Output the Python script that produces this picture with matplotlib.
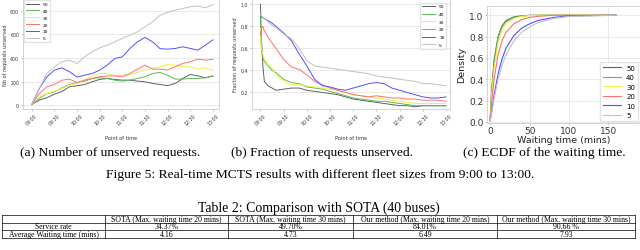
import matplotlib
matplotlib.use('Agg')
import matplotlib.pyplot as plt
from matplotlib.lines import Line2D

# ---- data ----
fleet_sizes = ['50', '40', '30', '20', '10', '5']
colors = ['#606060', '#5cb85c', '#f2f23a', '#ff7070', '#5050ff', '#c0c0c0']

time_labels = ['09:00', '09:30', '10:00', '10:30', '11:00',
               '11:30', '12:00', '12:30', '13:00']
time_ticks = [0, 30, 60, 90, 120, 150, 180, 210, 240]

# (a) number of unserved requests, every 10 minutes from 09:00
minutes_a = [0, 10, 20, 30, 40, 50, 60, 70, 80, 90, 100, 110, 120,
             130, 140, 150, 160, 170, 180, 190, 200, 210, 220, 230, 240]
unserved_50 = [8, 45, 65, 95, 118, 158, 166, 177, 200, 220, 228, 220, 214,
               214, 206, 200, 186, 177, 168, 186, 228, 262, 250, 234, 250]
unserved_40 = [8, 59, 101, 115, 149, 177, 194, 206, 228, 234, 228, 214, 206,
               214, 228, 242, 270, 279, 256, 223, 223, 228, 228, 234, 248]
unserved_30 = [8, 73, 101, 121, 144, 172, 186, 214, 250, 270, 270, 250, 256,
               262, 279, 299, 313, 327, 347, 341, 327, 327, 307, 318, 299]
unserved_20 = [8, 101, 158, 177, 214, 222, 194, 214, 228, 242, 250, 250, 242,
               270, 307, 341, 307, 307, 299, 327, 355, 369, 392, 383, 389]
unserved_10 = [8, 144, 242, 299, 318, 285, 240, 256, 270, 299, 341, 397, 411,
               482, 538, 575, 538, 480, 476, 482, 496, 482, 468, 510, 555]
unserved_5 = [8, 144, 270, 327, 369, 383, 355, 411, 454, 487, 510, 538, 566,
              594, 622, 665, 707, 763, 786, 806, 820, 834, 842, 825, 853]

# (b) fraction of requests unserved
minutes_b = [0, 1, 3, 5, 10, 15, 20, 30, 40, 50, 60, 70, 80, 90, 100, 110,
             120, 130, 140, 150, 160, 170, 180, 190, 200, 210, 220, 230, 240]
fraction_50 = [1.0, 0.72, 0.45, 0.30, 0.26, 0.24, 0.22, 0.23, 0.24, 0.24, 0.22,
               0.21, 0.20, 0.19, 0.18, 0.16, 0.14, 0.13, 0.12, 0.11, 0.10, 0.09,
               0.08, 0.08, 0.07, 0.08, 0.08, 0.08, 0.08]
fraction_40 = [0.90, 0.62, 0.52, 0.48, 0.44, 0.40, 0.38, 0.32, 0.29, 0.28, 0.25,
               0.24, 0.23, 0.21, 0.19, 0.17, 0.15, 0.14, 0.13, 0.12, 0.12, 0.11,
               0.10, 0.09, 0.08, 0.08, 0.08, 0.08, 0.08]
fraction_30 = [0.78, 0.60, 0.55, 0.50, 0.45, 0.42, 0.36, 0.30, 0.27, 0.27, 0.26,
               0.25, 0.24, 0.23, 0.22, 0.20, 0.18, 0.17, 0.16, 0.15, 0.14, 0.13,
               0.12, 0.11, 0.10, 0.10, 0.10, 0.10, 0.10]
fraction_20 = [0.72, 0.78, 0.80, 0.76, 0.70, 0.65, 0.60, 0.50, 0.43, 0.41, 0.36,
               0.30, 0.27, 0.24, 0.22, 0.20, 0.18, 0.17, 0.16, 0.17, 0.16, 0.15,
               0.15, 0.14, 0.14, 0.13, 0.13, 0.13, 0.12]
fraction_10 = [0.88, 0.89, 0.88, 0.87, 0.85, 0.83, 0.80, 0.74, 0.67, 0.55, 0.44,
               0.32, 0.26, 0.25, 0.23, 0.22, 0.24, 0.26, 0.28, 0.29, 0.28, 0.24,
               0.22, 0.20, 0.18, 0.16, 0.15, 0.15, 0.16]
fraction_5 = [0.91, 0.90, 0.88, 0.87, 0.84, 0.81, 0.79, 0.73, 0.69, 0.60, 0.49,
              0.44, 0.43, 0.42, 0.41, 0.40, 0.39, 0.38, 0.37, 0.35, 0.34, 0.33,
              0.32, 0.31, 0.30, 0.28, 0.28, 0.27, 0.26]

# (c) ECDF of the waiting time
wait_mins = [0, 2, 5, 10, 15, 20, 30, 40, 50, 60, 80, 100, 160]
ecdf_50 = [0.02, 0.30, 0.58, 0.80, 0.90, 0.95, 0.985, 0.995, 1.0, 1.0, 1.0, 1.0, 1.0]
ecdf_40 = [0.02, 0.28, 0.56, 0.79, 0.89, 0.94, 0.98, 0.993, 0.998, 1.0, 1.0, 1.0, 1.0]
ecdf_30 = [0.02, 0.25, 0.50, 0.74, 0.86, 0.92, 0.97, 0.99, 0.997, 1.0, 1.0, 1.0, 1.0]
ecdf_20 = [0.02, 0.18, 0.40, 0.63, 0.76, 0.84, 0.92, 0.96, 0.98, 0.99, 1.0, 1.0, 1.0]
ecdf_10 = [0.01, 0.10, 0.25, 0.45, 0.59, 0.69, 0.81, 0.88, 0.92, 0.95, 0.98, 0.995, 1.0]
ecdf_5 = [0.01, 0.09, 0.22, 0.40, 0.53, 0.63, 0.76, 0.84, 0.89, 0.93, 0.97, 0.99, 1.0]

# Table 2
table_columns = ['', 'SOTA (Max. waiting time 20 mins)', 'SOTA (Max. waiting time 30 mins)',
                 'Our method (Max. waiting time 20 mins)', 'Our method (Max. waiting time 30 mins)']
table_rows = [
    ['Service rate', '34.37%', '49.70%', '84.01%', '90.66 %'],
    ['Average Waiting time (mins)', '4.16', '4.73', '6.49', '7.93'],
]

W, H = 640, 251
fig = plt.figure(figsize=(W / 100, H / 100), dpi=100)


def px_axes(left, top, right, bottom):
    return fig.add_axes([left / W, 1 - bottom / H, (right - left) / W, (bottom - top) / H])


def style_axes(ax, tick_size, xgrid=False):
    for sp in ax.spines.values():
        sp.set_color('#cccccc')
        sp.set_linewidth(0.6)
    ax.tick_params(labelsize=tick_size, length=1.5, width=0.4, color='#999999',
                   labelcolor='#333333', pad=1)
    ax.grid(True, axis='y', color='#e0e0e0', linewidth=0.5)
    if xgrid:
        ax.grid(True, axis='x', color='#e0e0e0', linewidth=0.5)
    ax.set_axisbelow(True)


# ---- (a) ----
ax = px_axes(22.7, 0, 219, 110)
series_a = [unserved_50, unserved_40, unserved_30, unserved_20, unserved_10, unserved_5]
for vals, c, lab in zip(series_a, colors, fleet_sizes):
    ax.plot(minutes_a, vals, color=c, lw=0.7, label=lab)
ax.set_xlim(-12, 248)
ax.set_ylim(-30, 900)
ax.set_yticks([0, 200, 400, 600, 800])
ax.set_xticks(time_ticks)
ax.set_xticklabels(time_labels, rotation=45)
style_axes(ax, 3.4)
ax.set_ylabel('Nb of requests unserved', fontsize=3.6, labelpad=1.5, color='#333333')
ax.set_xlabel('Point of time', fontsize=3.6, labelpad=7, color='#333333')
ax.legend(loc='upper left', fontsize=3.2, handlelength=3, borderaxespad=0.3,
          edgecolor='#dddddd', fancybox=False, labelspacing=0.6)

# ---- (b) ----
ax = px_axes(251.5, 0, 450, 110)
series_b = [fraction_50, fraction_40, fraction_30, fraction_20, fraction_10, fraction_5]
for vals, c, lab in zip(series_b, colors, fleet_sizes):
    ax.plot(minutes_b, vals, color=c, lw=0.7, label=lab)
ax.set_xlim(-11.6, 245.2)
ax.set_ylim(0.05, 1.048)
ax.set_yticks([0.2, 0.4, 0.6, 0.8, 1.0])
ax.set_xticks(time_ticks)
ax.set_xticklabels(time_labels, rotation=45)
style_axes(ax, 3.4)
ax.set_ylabel('Fraction of requests unserved', fontsize=3.6, labelpad=1.5, color='#333333')
ax.set_xlabel('Point of time', fontsize=3.6, labelpad=7, color='#333333')
ax.legend(loc='upper right', fontsize=3.2, handlelength=3, borderaxespad=0.8,
          edgecolor='#dddddd', fancybox=False, labelspacing=0.8)

# ---- (c) ----
ax = px_axes(487, 6.7, 640, 124)
series_c = [ecdf_50, ecdf_40, ecdf_30, ecdf_20, ecdf_10, ecdf_5]
for vals, c, lab in zip(series_c, colors, fleet_sizes):
    ax.plot(wait_mins, vals, color=c, lw=0.8, label=lab)
ax.set_xlim(-4, 190)
ax.set_ylim(-0.01, 1.09)
ax.set_xticks([0, 50, 100, 150])
ax.set_yticks([0.0, 0.2, 0.4, 0.6, 0.8, 1.0])
style_axes(ax, 6.5, xgrid=True)
ax.set_ylabel('Density', fontsize=6.8, labelpad=2, color='#222222')
ax.set_xlabel('Waiting time (mins)', fontsize=6.8, labelpad=0, color='#222222')
ax.legend(loc='lower right', fontsize=5, handlelength=2.5, borderaxespad=0.3,
          edgecolor='#dddddd', fancybox=False, labelspacing=0.5)

# ---- captions ----
serif = 'Liberation Serif'
fig.text(110 / W, 1 - 153 / H, '(a) Number of unserved requests.', ha='center', va='center',
         fontsize=9.7, family=serif)
fig.text(322 / W, 1 - 153 / H, '(b) Fraction of requests unserved.', ha='center', va='center',
         fontsize=9.7, family=serif)
fig.text(544 / W, 1 - 153 / H, '(c) ECDF of the waiting time.', ha='center', va='center',
         fontsize=9.7, family=serif)
fig.text(320 / W, 1 - 175 / H,
         'Figure 5: Real-time MCTS results with different fleet sizes from 9:00 to 13:00.',
         ha='center', va='center', fontsize=9.7, family=serif)
fig.text(319 / W, 1 - 208 / H, 'Table 2: Comparison with SOTA (40 buses)', ha='center',
         va='center', fontsize=9.9, family=serif)

# ---- table ----
col_edges = [2, 105, 228, 353, 497, 635]
row_edges = [216, 223.5, 231, 239]
for y in row_edges:
    fig.add_artist(Line2D([col_edges[0] / W, col_edges[-1] / W], [1 - y / H, 1 - y / H],
                          color='black', lw=0.5))
for x in col_edges:
    fig.add_artist(Line2D([x / W, x / W], [1 - row_edges[0] / H, 1 - row_edges[-1] / H],
                          color='black', lw=0.5))
all_rows = [table_columns] + table_rows
for i, row in enumerate(all_rows):
    yc = (row_edges[i] + row_edges[i + 1]) / 2
    for j, cell in enumerate(row):
        xc = (col_edges[j] + col_edges[j + 1]) / 2
        fig.text(xc / W, 1 - yc / H, cell, ha='center', va='center', fontsize=5.6,
                 family=serif)

fig.savefig('out.png', dpi=100)
